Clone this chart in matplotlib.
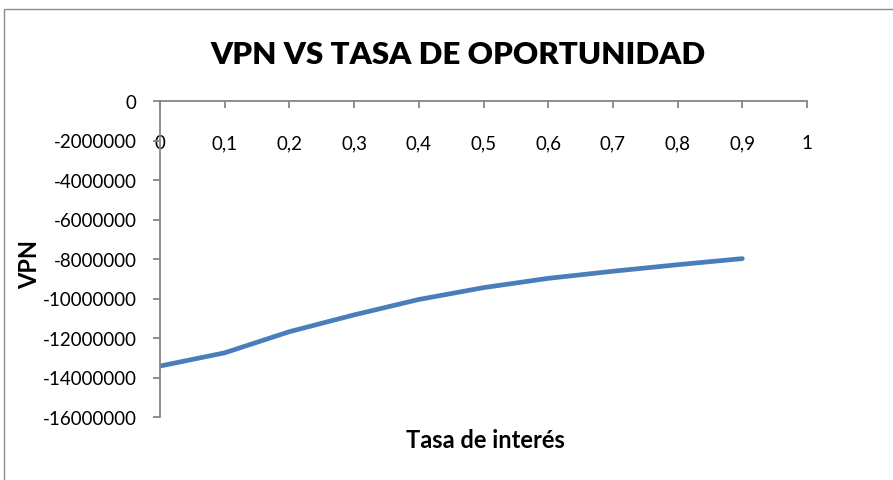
import matplotlib
matplotlib.use("Agg")
import matplotlib.pyplot as plt
from matplotlib.ticker import FuncFormatter
from matplotlib.patches import Rectangle

# data
tasa = [0.0, 0.1, 0.2, 0.3, 0.4, 0.5, 0.6, 0.7, 0.8, 0.9]
vpn = [-13420000, -12750000, -11680000, -10830000, -10050000,
       -9450000, -8980000, -8620000, -8290000, -7980000]
x_ticks = [0, 0.1, 0.2, 0.3, 0.4, 0.5, 0.6, 0.7, 0.8, 0.9, 1]
y_ticks = [0, -2000000, -4000000, -6000000, -8000000, -10000000,
           -12000000, -14000000, -16000000]

plt.rcParams['font.family'] = ['Lato', 'DejaVu Sans']
axis_grey = '#868686'

fig = plt.figure(figsize=(8.93, 4.81), dpi=100)
fig.patches.append(Rectangle((4 / 893, -0.1), 1.2, 1 - 10 / 481 + 0.1,
                             transform=fig.transFigure, fill=False,
                             edgecolor='#8c8c8c', lw=1.0))

ax = fig.add_axes([160 / 893, 1 - 418 / 481, 647 / 893, 316 / 481])
ax.plot(tasa, vpn, color='#4A7EBB', lw=3.4, solid_capstyle='round',
        solid_joinstyle='round')

ax.set_xlim(0, 1)
ax.set_ylim(-16000000, 0)
ax.set_xticks(x_ticks)
ax.set_yticks(y_ticks)
ax.xaxis.set_major_formatter(FuncFormatter(lambda v, _: ('%g' % round(v, 2)).replace('.', ',')))
ax.yaxis.set_major_formatter(FuncFormatter(lambda v, _: '%d' % v))

ax.spines['right'].set_visible(False)
ax.spines['top'].set_visible(False)
ax.spines['bottom'].set_position(('data', 0))
for s in ('left', 'bottom'):
    ax.spines[s].set_color(axis_grey)
    ax.spines[s].set_linewidth(1.3)

ax.tick_params(axis='both', color=axis_grey, width=1.3, length=5,
               direction='out', labelsize=13.5, labelcolor='black')
ax.tick_params(axis='x', pad=19)
ax.tick_params(axis='y', pad=12)

fig.text(458 / 893, 1 - 55 / 481, 'VPN VS TASA DE OPORTUNIDAD',
         ha='center', va='center', fontsize=22.5, fontweight='heavy')
fig.text(485 / 893, 1 - 440 / 481, 'Tasa de interés',
         ha='center', va='center', fontsize=17, fontweight='bold')
fig.text(30 / 893, 1 - 265 / 481, 'VPN', rotation=90,
         ha='center', va='center', fontsize=17, fontweight='bold')

fig.savefig('out.png', dpi=100)
